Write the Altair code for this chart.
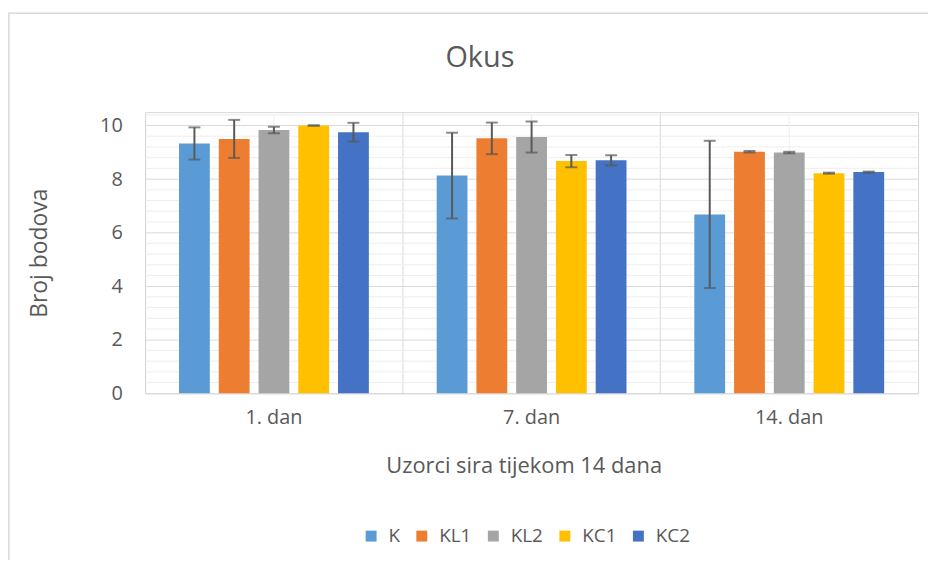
import altair as alt
import pandas as pd

# ---- data ----
days = ["1. dan", "7. dan", "14. dan"]
series = ["K", "KL1", "KL2", "KC1", "KC2"]
colors = ["#5B9BD5", "#ED7D31", "#A5A5A5", "#FFC000", "#4472C4"]

k_mean = [9.33, 8.13, 6.68]
kl1_mean = [9.50, 9.52, 9.02]
kl2_mean = [9.83, 9.57, 8.99]
kc1_mean = [10.00, 8.67, 8.22]
kc2_mean = [9.75, 8.70, 8.26]

k_err = [0.60, 1.60, 2.75]
kl1_err = [0.71, 0.59, 0.03]
kl2_err = [0.12, 0.58, 0.03]
kc1_err = [0.00, 0.23, 0.02]
kc2_err = [0.35, 0.19, 0.02]

y_major = [0, 2, 4, 6, 8, 10]
y_minor = [0.4, 0.8, 1.2, 1.6, 2.4, 2.8, 3.2, 3.6, 4.4, 4.8, 5.2, 5.6,
           6.4, 6.8, 7.2, 7.6, 8.4, 8.8, 9.2, 9.6, 10.4]

means = [k_mean, kl1_mean, kl2_mean, kc1_mean, kc2_mean]
errs = [k_err, kl1_err, kl2_err, kc1_err, kc2_err]

rows = []
for s, m, e in zip(series, means, errs):
    for d, mv, ev in zip(days, m, e):
        rows.append({"day": d, "series": s, "mean": mv, "err": ev,
                     "lo": mv - ev, "hi": mv + ev})
df = pd.DataFrame(rows)

FONT = "Open Sans"
TXT = "#595959"
W, H = 778, 283

x_scale = alt.Scale(domain=days, paddingInner=0, paddingOuter=0)
xoff_scale = alt.Scale(domain=series, paddingInner=0.225, paddingOuter=0.853)
y_scale = alt.Scale(domain=[0, 10.5], nice=False, zero=True)

x_axis = alt.Axis(
    title="Uzorci sira tijekom 14 dana", labelAngle=0, ticks=False,
    domain=False, grid=True, bandPosition=0, gridColor="#d9d9d9",
    labelFontSize=20, labelColor=TXT, labelFont=FONT, labelPadding=14,
    titleFontSize=22, titleColor=TXT, titleFont=FONT,
    titleFontWeight="normal", titleX=381, titleY=73,
    titleBaseline="middle", titleAlign="center")
y_axis = alt.Axis(
    values=y_major, title="Broj bodova", ticks=False, domain=False,
    grid=True, gridColor="#d9d9d9", labelFontSize=20, labelColor=TXT,
    labelFont=FONT, labelPadding=23, titleFontSize=23, titleColor=TXT,
    titleFont=FONT, titleFontWeight="normal", titleX=-106, titleY=141.5,
    titleAngle=270, titleBaseline="middle", titleAlign="center")

X = alt.X("day:N", scale=x_scale, axis=x_axis)
XOFF = alt.XOffset("series:N", scale=xoff_scale, sort=series)

# minor horizontal gridlines
minor = alt.Chart(pd.DataFrame({"v": y_minor})).mark_rule(
    color="#eeeeee", strokeWidth=1
).encode(y=alt.Y("v:Q", scale=y_scale, axis=y_axis))

# light vertical lines at category centres
centres = alt.Chart(pd.DataFrame({"day": days})).mark_rule(
    color="#eeeeee", strokeWidth=1
).encode(x=X)

base = alt.Chart(df)

bars = base.mark_bar().encode(
    x=X,
    xOffset=XOFF,
    y=alt.Y("mean:Q", scale=y_scale, axis=y_axis),
    color=alt.Color("series:N", sort=series,
                    scale=alt.Scale(domain=series, range=colors),
                    legend=alt.Legend(
                        orient="none", legendX=218, legendY=417,
                        direction="horizontal", title=None,
                        symbolType="square", symbolSize=121,
                        symbolStrokeWidth=0, labelFontSize=19,
                        labelColor=TXT, labelFont=FONT, columnPadding=12,
                        labelOffset=8, padding=0)),
)

err_rule = base.mark_rule(color="#595959", strokeWidth=2).encode(
    x=X, xOffset=XOFF,
    y=alt.Y("lo:Q", scale=y_scale, axis=y_axis),
    y2="hi:Q",
)
cap_lo = base.mark_tick(color="#595959", thickness=2, size=12,
                        orient="horizontal").encode(
    x=X, xOffset=XOFF,
    y=alt.Y("lo:Q", scale=y_scale, axis=y_axis),
)
cap_hi = base.mark_tick(color="#595959", thickness=2, size=12,
                        orient="horizontal").encode(
    x=X, xOffset=XOFF,
    y=alt.Y("hi:Q", scale=y_scale, axis=y_axis),
)

# chart-area frame
frame = alt.Chart(pd.DataFrame({"f": [0]})).mark_rect(
    fillOpacity=0, stroke="#d9d9d9", strokeWidth=1.5
).encode(x=alt.value(-137.2), x2=alt.value(1200),
         y=alt.value(-99.5), y2=alt.value(1200))

chart = alt.layer(minor, centres, bars, err_rule, cap_lo, cap_hi, frame).properties(
    width=W, height=H,
    autosize=alt.AutoSizeParams(type="none"),
    padding={"left": 138, "top": 103, "right": 10, "bottom": 166},
    title=alt.TitleParams("Okus", fontSize=29, font=FONT, color=TXT,
                          fontWeight="normal", anchor="middle", frame="group",
                          offset=0, dx=-52, dy=61),
).configure_view(stroke="#d9d9d9", strokeWidth=1)

chart.save("out.html", embed_options={"renderer": "svg", "actions": False})
